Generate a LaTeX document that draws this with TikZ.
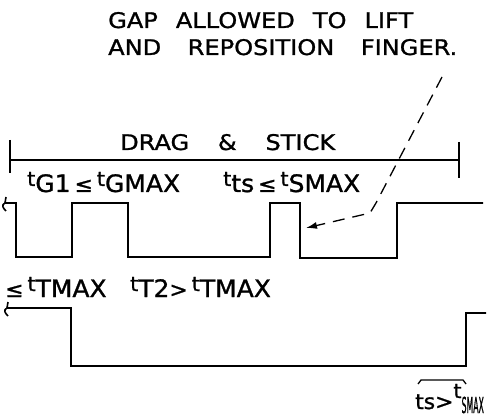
\documentclass[tikz,border=0pt]{standalone}
\usepackage{fontspec}
\setmainfont{DejaVu Sans}[FakeStretch=1.12,FakeBold=1.2]
\newfontfamily\lblfont{DejaVu Sans}[FakeStretch=1.04,FakeBold=1.2]
\usepackage{graphicx}
\usetikzlibrary{arrows.meta}
\tikzset{
  >=Latex,
  every node/.style={inner sep=0pt,text=black},
  wave/.style={line width=1.6pt,line join=miter},
  head/.style={anchor=base west,font=\fontsize{21.5}{26}\selectfont},
  lbl/.style={anchor=base west,font=\lblfont\fontsize{24}{24}\selectfont},
  leader/.style={-{Latex[length=11pt,width=7pt]},line width=1.3pt,dash pattern=on 12pt off 8pt},
}
\newcommand{\tv}[1]{\raisebox{6pt}{\fontsize{20}{20}\selectfont t}#1}
\newcommand{\brk}{.. controls +(-4,2) and +(-3,-3) .. ++(1,8)}

\begin{document}
\begin{tikzpicture}[x=1pt,y=-1pt]
  \useasboundingbox (0,0) rectangle (494,419);

  % note on the lift gap
  \node[head] (gap1) at (108,28) {\makebox[305pt][s]{GAP ALLOWED TO LIFT}};
  \node[head] (gap2) at (108,55) {\makebox[349pt][s]{AND REPOSITION FINGER.}};
  \coordinate (leadA) at (442,77);
  \coordinate (leadB) at (376,203);
  \coordinate (leadC) at (370,213);
  \coordinate (leadTip) at (306,228);
  \draw[leader] (leadA) -- (leadB) -- (leadC) -- (leadTip);

  % drag & stick span
  \node[head] (drag) at (120,150) {\makebox[215pt][s]{DRAG \& STICK}};
  \coordinate (spanL) at (10,160);
  \coordinate (spanR) at (459,160);
  \draw[wave] (spanL) -- (spanR);
  \draw[wave] (10,140) -- (10,173);
  \draw[wave] (459,142) -- (459,178);

  % touch signal
  \node[lbl] (tG) at (27,192) {\tv{G1}\,{\fontsize{21}{21}\selectfont ≤}\,\tv{GMAX}};
  \node[lbl] (tS) at (223,192) {\tv{ts}\,{\fontsize{21}{21}\selectfont ≤}\,\tv{SMAX}};
  \draw[wave] (6,197) -- (5,203) -- (16,203) -- (16,257) -- (72,257) -- (72,203)
    -- (128,203) -- (128,257) -- (270,257) -- (270,203) -- (300,203) -- (300,258)
    -- (397,258) -- (397,203) -- (483,203);
  \draw[wave] (5,203) \brk;

  % drag signal
  \node[lbl] (tT1) at (5,297) {{\fontsize{21}{21}\selectfont ≤}\,\tv{TMAX}};
  \node[lbl] (tT2) at (130,297) {\tv{T2}{\fontsize{21}{21}\selectfont >}\,\tv{TMAX}};
  \draw[wave] (8,302) -- (7,308) -- (71,308) -- (71,366) -- (466,366) -- (466,313) -- (486,313);
  \draw[wave] (7,308) \brk;

  \draw[line width=1.3pt] (418,384) -- (421,380) -- (463,380) -- (466,384);
  \node[lbl] (tsE) at (415,409) {{\fontsize{21}{21}\selectfont ts>}\raisebox{11pt}{\fontsize{20}{20}\selectfont t}\raisebox{-4pt}{\fontsize{22}{22}\selectfont\scalebox{0.34}[1]{SMAX}}};
\end{tikzpicture}
\end{document}
